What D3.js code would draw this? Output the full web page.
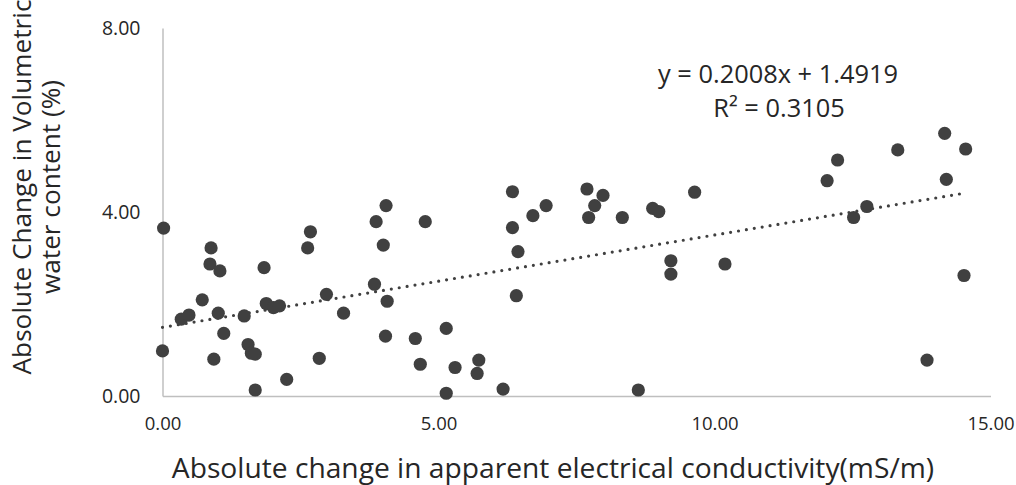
<!DOCTYPE html>
<html>
<head>
<meta charset="utf-8">
<script src="https://cdn.jsdelivr.net/npm/d3@7"></script>
<style>
  html, body { margin: 0; padding: 0; background: #ffffff; }
  svg { display: block; font-family: "Open Sans", sans-serif; }
</style>
</head>
<body>
<svg id="chart" width="1016" height="485"></svg>
<script>
// ---- data ----
const xValues = [0.02,0.00,0.88,0.86,1.04,0.72,0.34,0.48,1.01,1.11,0.93,1.48,1.55,1.61,1.68,1.68,1.84,1.88,2.01,2.12,2.25,2.68,2.63,2.84,2.97,3.28,4.05,3.87,4.76,4.00,3.84,4.07,4.04,4.58,4.67,5.14,5.14,5.30,5.73,5.70,6.17,6.34,6.34,6.44,6.41,6.71,6.95,7.69,7.98,7.83,7.72,8.33,8.88,8.99,8.62,9.64,9.21,9.21,10.19,12.23,12.04,13.32,14.17,14.55,14.20,12.76,12.52,14.52,13.85];
const yValues = [3.65,0.98,3.22,2.87,2.72,2.09,1.67,1.76,1.80,1.36,0.80,1.74,1.12,0.93,0.91,0.13,2.79,2.01,1.92,1.96,0.36,3.57,3.22,0.82,2.21,1.80,4.14,3.79,3.79,3.28,2.43,2.06,1.30,1.25,0.69,1.47,0.06,0.62,0.78,0.49,0.15,4.44,3.66,3.14,2.18,3.92,4.14,4.50,4.36,4.14,3.88,3.88,4.08,4.01,0.13,4.43,2.94,2.65,2.87,5.13,4.68,5.35,5.71,5.37,4.71,4.12,3.88,2.62,0.78];
const xTicks = [0, 5, 10, 15];
const yTicks = [0, 4, 8];
const trendSlope = 0.2008;
const trendIntercept = 1.4919;
const equationText = "y = 0.2008x + 1.4919";
const r2Text = "R² = 0.3105";
const xTitle = "Absolute change in apparent electrical conductivity(mS/m)";
const yTitleLines = ["Absolute Change in Volumetric", "water content (%)"];

// ---- layout ----
const svg = d3.select("#chart");
const plotLeft = 162.5, plotRight = 990.5, plotTop = 28, plotBottom = 396;
const x = d3.scaleLinear().domain([0, 15]).range([plotLeft, plotRight]);
const y = d3.scaleLinear().domain([0, 8]).range([plotBottom, plotTop]);
const axisColor = "#bfbfbf";
const markColor = "#404040";
const textColor = "#262626";

// x axis
const gx = svg.append("g").attr("transform", `translate(0,${plotBottom})`)
  .call(d3.axisBottom(x).tickValues(xTicks).tickFormat(d3.format(".2f")).tickSize(0).tickPadding(21));
gx.select(".domain").attr("stroke", axisColor).attr("stroke-width", 1.5);
gx.selectAll("text").attr("font-size", 18.5).attr("fill", textColor).attr("font-family", "Open Sans");

// y axis
const gy = svg.append("g").attr("transform", `translate(${plotLeft},0)`)
  .call(d3.axisLeft(y).tickValues(yTicks).tickFormat(d3.format(".2f")).tickSize(0).tickPadding(22));
gy.select(".domain").attr("stroke", axisColor).attr("stroke-width", 1.5);
gy.selectAll("text").attr("font-size", 19.5).attr("fill", textColor).attr("font-family", "Open Sans");

// trend line
const xMax = d3.max(xValues);
const trendData = [0, xMax].map(v => [v, trendSlope * v + trendIntercept]);
svg.append("path")
  .datum(trendData)
  .attr("d", d3.line().x(d => x(d[0])).y(d => y(d[1])))
  .attr("fill", "none")
  .attr("stroke", markColor)
  .attr("stroke-width", 3.2)
  .attr("stroke-linecap", "round")
  .attr("stroke-dasharray", "0 8");

// points
svg.append("g").selectAll("circle")
  .data(xValues.map((v, i) => [v, yValues[i]]))
  .join("circle")
  .attr("cx", d => x(d[0]))
  .attr("cy", d => y(d[1]))
  .attr("r", 6.6)
  .attr("fill", markColor);

// equation
svg.append("text").attr("x", 778).attr("y", 83).attr("text-anchor", "middle")
  .attr("font-size", 25.4).attr("fill", textColor).text(equationText);
svg.append("text").attr("x", 779).attr("y", 117).attr("text-anchor", "middle")
  .attr("font-size", 25.4).attr("fill", textColor).text(r2Text);

// x title
svg.append("text").attr("x", 553).attr("y", 478).attr("text-anchor", "middle")
  .attr("font-size", 28.2).attr("fill", textColor).text(xTitle);

// y title
const yt = svg.append("text").attr("transform", "translate(0,187) rotate(-90)")
  .attr("text-anchor", "middle").attr("font-size", 26.2).attr("fill", textColor);
yt.selectAll("tspan").data(yTitleLines).join("tspan")
  .attr("x", 0).attr("y", (d, i) => 31 + i * 29).text(d => d);
</script>
</body>
</html>
